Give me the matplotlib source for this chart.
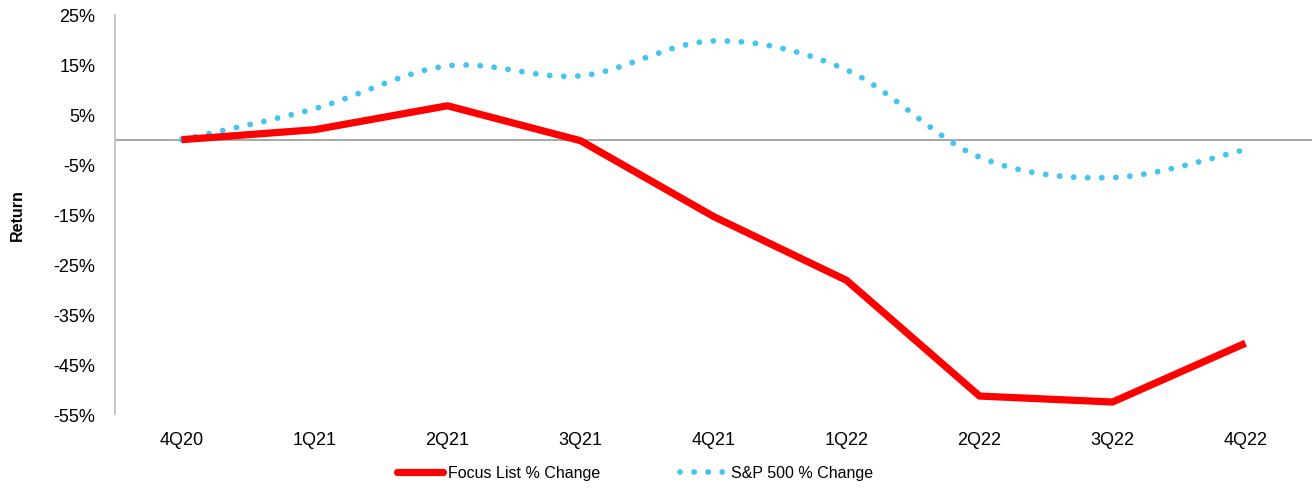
import matplotlib.pyplot as plt
import numpy as np
from matplotlib.path import Path
from matplotlib.patches import PathPatch
from matplotlib.lines import Line2D
from matplotlib.ticker import FuncFormatter

plt.rcParams['font.family'] = ['Liberation Sans', 'DejaVu Sans']

# Read data
quarters = ['4Q20', '1Q21', '2Q21', '3Q21', '4Q21', '1Q22', '2Q22', '3Q22', '4Q22']
focus_list = [0.0, 2.0, 6.8, -0.2, -15.4, -28.2, -51.4, -52.6, -40.8]
sp500 = [0.0, 6.2, 14.8, 12.8, 19.8, 14.0, -3.5, -7.6, -2.0]

red = '#FF0000'
blue = '#45C4F0'
dots = (0, (0.01, 2.4))

fig = plt.figure(figsize=(13.15, 4.89), dpi=100)
ax = fig.add_axes([115/1315, 1 - 415/489, (1312 - 115)/1315, (415 - 16)/489])

x = np.arange(len(quarters))

# smoothed S&P line (bezier through the data points, like excel's smooth line)
pts = np.column_stack([x, sp500])
verts = [pts[0]]
codes = [Path.MOVETO]
for i in range(len(pts) - 1):
    p_prev = pts[max(i - 1, 0)]
    p0 = pts[i]
    p1 = pts[i + 1]
    p_next = pts[min(i + 2, len(pts) - 1)]
    c1 = p0 + (p1 - p_prev) / 6
    c2 = p1 - (p_next - p0) / 6
    verts += [c1, c2, p1]
    codes += [Path.CURVE4] * 3
sp_patch = PathPatch(Path(verts, codes), facecolor='none', edgecolor=blue,
                     lw=4.2, linestyle=dots, capstyle='round', zorder=3)
ax.add_patch(sp_patch)

ax.plot(x, focus_list, '-', color=red, lw=5.2, solid_capstyle='butt', zorder=4)

ax.axhline(0, color='#999999', lw=1.2, zorder=2)

ax.set_xlim(-0.5, len(quarters) - 0.5)
ax.set_ylim(-55, 25)
ax.set_yticks(np.arange(-55, 26, 10))
ax.yaxis.set_major_formatter(FuncFormatter(lambda v, p: '%d%%' % v))
ax.set_xticks(x)
ax.set_xticklabels(quarters)
ax.tick_params(axis='both', length=0, labelsize=13, colors='black')
ax.tick_params(axis='x', pad=12)
ax.tick_params(axis='y', pad=14)
for s in ['top', 'right', 'bottom']:
    ax.spines[s].set_visible(False)
ax.spines['left'].set_color('#BBBBBB')
ax.spines['left'].set_linewidth(1.2)

fig.text(17/1315, 1 - 215/489, 'Return', rotation=90, fontsize=11.5,
         fontweight='bold', ha='center', va='center')

handles = [Line2D([], [], color=red, lw=5.2, solid_capstyle='round'),
           Line2D([], [], color=blue, lw=4.2, linestyle=dots,
                  dash_capstyle='round')]
fig.legend(handles, ['Focus List % Change', 'S&P 500 % Change'], ncol=2,
           loc='center', bbox_to_anchor=(635/1315, 1 - 474/489), frameon=False,
           fontsize=11.5, handlelength=2.9, handletextpad=0.3, columnspacing=5.0)

plt.savefig('out.png', dpi=100)
